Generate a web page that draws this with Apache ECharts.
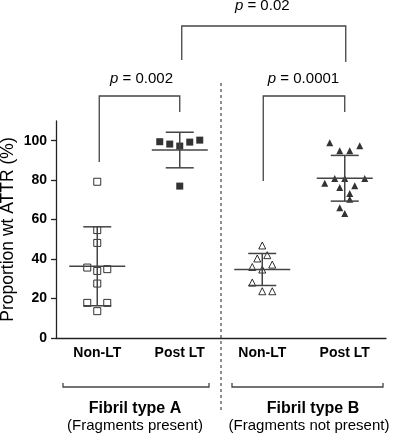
<!DOCTYPE html>
<html>
<head>
<meta charset="utf-8">
<script src="https://cdn.jsdelivr.net/npm/echarts@6/dist/echarts.min.js"></script>
<style>
  html, body { margin: 0; padding: 0; background: #fff; }
  #chart { width: 397px; height: 436px; }
</style>
</head>
<body>
<div id="chart"></div>
<script>
const categories = ['Non-LT', 'Post LT', 'Non-LT', 'Post LT']
const yTicks = [0, 20, 40, 60, 80, 100]
// proportion wt ATTR (%) per patient
const nonLtA = [79.2, 54.7, 48.2, 35.7, 34.0, 34.9, 27.6, 17.8, 13.6, 17.8]
const postLtA = [99.5, 98.3, 97.3, 99.3, 100.3, 77.0]
const nonLtB = [46.9, 40.3, 42.0, 36.0, 34.7, 37.2, 28.1, 23.7, 23.7]
const postLtB = [99.0, 94.9, 94.9, 97.5, 78.4, 80.9, 80.9, 77.2, 80.9, 76.3, 73.3, 66.0, 70.3, 63.1]
const pLabels = ['0.002', '0.0001', '0.02']
const groupTitles = ['Fibril type A', 'Fibril type B']
const groupNotes = ['(Fragments present)', '(Fragments not present)']

const FONT = 'Liberation Sans, Arial, sans-serif'
const LINE = '#444'

// spread points of similar value sideways, like a column scatter
function swarm(values, catIndex) {
  const order = values.map((v, i) => i).sort((a, b) => values[b] - values[a])
  const rows = []
  order.forEach(i => {
    const row = rows[rows.length - 1]
    if (row && values[row[0]] - values[i] <= 4.5) row.push(i)
    else rows.push([i])
  })
  const offsets = []
  rows.forEach(row => {
    row.slice().sort((a, b) => a - b).forEach((i, k) => {
      offsets[i] = (k - (row.length - 1) / 2) * 10
    })
  })
  return values.map((v, i) => ({ value: [catIndex, v], symbolOffset: [offsets[i], 0] }))
}

function meanSd(values) {
  const m = values.reduce((s, v) => s + v, 0) / values.length
  const sd = Math.sqrt(values.reduce((s, v) => s + (v - m) * (v - m), 0) / (values.length - 1))
  return [m, sd]
}

const groups = [nonLtA, postLtA, nonLtB, postLtB]
const summary = groups.map((g, i) => [i].concat(meanSd(g)))

const openStyle = { color: '#fff', borderColor: '#000', borderWidth: 1 }
const filledStyle = { color: '#000' }

const chart = echarts.init(document.getElementById('chart'))
chart.setOption({
  animation: false,
  grid: { left: 56, right: 11, top: 121, bottom: 98, outerBoundsMode: 'none', containLabel: false },
  xAxis: {
    type: 'category',
    data: categories,
    boundaryGap: true,
    axisLine: { lineStyle: { color: '#222', width: 1.3 } },
    axisTick: { alignWithLabel: true, length: 5, lineStyle: { color: '#222', width: 1.3 } },
    axisLabel: { color: '#000', fontWeight: 'bold', fontSize: 14, fontFamily: FONT, margin: 8 }
  },
  yAxis: {
    type: 'value',
    min: 0,
    max: 110,
    interval: 20,
    name: 'Proportion wt ATTR (%)',
    nameLocation: 'middle',
    nameGap: 39,
    nameMoveOverlap: false,
    nameTextStyle: { color: '#000', fontSize: 17.5, fontFamily: FONT },
    splitLine: { show: false },
    axisLine: { show: true, lineStyle: { color: '#222', width: 1.3 } },
    axisTick: { show: true, length: 5, customValues: yTicks, lineStyle: { color: '#222', width: 1.3 } },
    axisLabel: { color: '#000', fontWeight: 'bold', fontSize: 14, fontFamily: FONT, margin: 9, customValues: yTicks }
  },
  series: [
    { type: 'scatter', symbol: 'rect', symbolSize: 7, itemStyle: openStyle, data: swarm(nonLtA, 0) },
    { type: 'scatter', symbol: 'rect', symbolSize: 7, itemStyle: filledStyle, data: swarm(postLtA, 1) },
    { type: 'scatter', symbol: 'triangle', symbolSize: 7, itemStyle: openStyle, data: swarm(nonLtB, 2) },
    { type: 'scatter', symbol: 'triangle', symbolSize: 7, itemStyle: filledStyle, data: swarm(postLtB, 3) },
    {
      type: 'custom',
      z: 5,
      data: summary,
      renderItem(params, api) {
        const x = api.coord([api.value(0), 0])[0]
        const m = api.value(1), sd = api.value(2)
        const yM = api.coord([0, m])[1]
        const yT = api.coord([0, m + sd])[1]
        const yB = api.coord([0, m - sd])[1]
        const style = { stroke: LINE, lineWidth: 1.5 }
        return {
          type: 'group',
          children: [
            { type: 'line', shape: { x1: x - 28, y1: yM, x2: x + 28, y2: yM }, style },
            { type: 'line', shape: { x1: x, y1: yT, x2: x, y2: yB }, style },
            { type: 'line', shape: { x1: x - 14, y1: yT, x2: x + 14, y2: yT }, style },
            { type: 'line', shape: { x1: x - 14, y1: yB, x2: x + 14, y2: yB }, style }
          ]
        }
      }
    }
  ]
})

// annotations: significance brackets, divider, group labels
const xc = categories.map((c, i) => chart.convertToPixel({ xAxisIndex: 0 }, i))
const lineStyle = { stroke: LINE, lineWidth: 1.3, fill: null }
const pText = (p, x, y) => ({
  type: 'text', x, y,
  style: {
    text: '{i|p} = ' + p,
    rich: { i: { fontStyle: 'italic', fontSize: 15, fontFamily: FONT, fill: '#000' } },
    fontSize: 15, fontFamily: FONT, fill: '#000', align: 'center', verticalAlign: 'middle'
  }
})
chart.setOption({
  graphic: [
    { type: 'polyline', shape: { points: [[xc[0] + 2, 162], [xc[0] + 2, 96], [xc[1], 96], [xc[1], 112]] }, style: lineStyle },
    { type: 'polyline', shape: { points: [[xc[2] + 1, 181], [xc[2] + 1, 96], [xc[3], 96], [xc[3], 112]] }, style: lineStyle },
    { type: 'polyline', shape: { points: [[xc[1] + 2, 60], [xc[1] + 2, 26], [xc[3] + 1, 26], [xc[3] + 1, 62]] }, style: lineStyle },
    pText(pLabels[0], (xc[0] + xc[1]) / 2 + 3, 79),
    pText(pLabels[1], (xc[2] + xc[3]) / 2, 79),
    pText(pLabels[2], (xc[1] + xc[3]) / 2, 6),
    { type: 'line', shape: { x1: 221, y1: 83, x2: 221, y2: 412 }, style: { stroke: '#222', lineWidth: 1, lineDash: [3, 3] } },
    { type: 'polyline', shape: { points: [[63, 383], [63, 387], [209, 387], [209, 383]] }, style: lineStyle },
    { type: 'polyline', shape: { points: [[232, 383], [232, 387], [383, 387], [383, 383]] }, style: lineStyle },
    { type: 'text', x: 135, y: 409, style: { text: groupTitles[0], fontSize: 16, fontWeight: 'bold', fontFamily: FONT, fill: '#000', align: 'center', verticalAlign: 'middle' } },
    { type: 'text', x: 313, y: 409, style: { text: groupTitles[1], fontSize: 16, fontWeight: 'bold', fontFamily: FONT, fill: '#000', align: 'center', verticalAlign: 'middle' } },
    { type: 'text', x: 135, y: 426, style: { text: groupNotes[0], fontSize: 15, fontFamily: FONT, fill: '#000', align: 'center', verticalAlign: 'middle' } },
    { type: 'text', x: 309, y: 426, style: { text: groupNotes[1], fontSize: 15, fontFamily: FONT, fill: '#000', align: 'center', verticalAlign: 'middle' } }
  ]
})
</script>
</body>
</html>
